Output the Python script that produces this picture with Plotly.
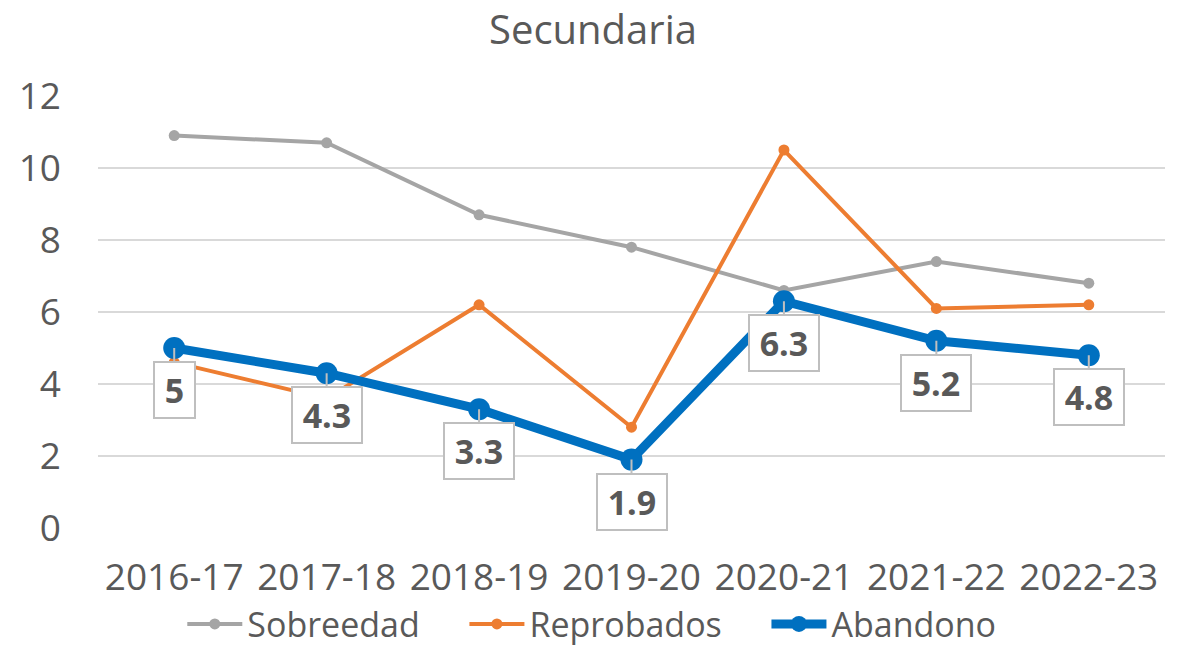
import plotly.graph_objects as go

categories = ["2016-17", "2017-18", "2018-19", "2019-20", "2020-21", "2021-22", "2022-23"]
sobreedad = [10.9, 10.7, 8.7, 7.8, 6.6, 7.4, 6.8]
reprobados = [4.6, 3.6, 6.2, 2.8, 10.5, 6.1, 6.2]
abandono = [5.0, 4.3, 3.3, 1.9, 6.3, 5.2, 4.8]
abandono_labels = ["5", "4.3", "3.3", "1.9", "6.3", "5.2", "4.8"]
y_ticks = [0, 2, 4, 6, 8, 10, 12]

FONT = "Open Sans"
TXT = "#595959"
PAD = "\u2002\u2002\u2009"  # spacing after legend entry text
TS = "\u2009"  # thin space padding inside data label boxes

fig = go.Figure()
fig.add_trace(go.Scatter(x=categories, y=sobreedad, name="Sobreedad" + PAD, mode="lines+markers",
                         line=dict(color="#a5a5a5", width=4), marker=dict(size=11, color="#a5a5a5")))
fig.add_trace(go.Scatter(x=categories, y=reprobados, name="Reprobados" + PAD, mode="lines+markers",
                         line=dict(color="#ed7d31", width=4), marker=dict(size=11, color="#ed7d31")))
fig.add_trace(go.Scatter(x=categories, y=abandono, name="Abandono" + PAD, mode="lines+markers",
                         line=dict(color="#0070c0", width=9), marker=dict(size=22, color="#0070c0")))

for c, v, t in zip(categories, abandono, abandono_labels):
    fig.add_annotation(x=c, y=v, text="<b>" + TS + t + TS + "</b>", showarrow=True, ax=0, ay=42,
                       arrowhead=0, arrowwidth=2, arrowcolor="#bfbfbf",
                       bgcolor="white", bordercolor="#bfbfbf", borderwidth=2, borderpad=4,
                       font=dict(family=FONT, size=34, color=TXT))

fig.update_layout(
    width=1170, height=639,
    margin=dict(l=90, r=13, t=88, b=119, autoexpand=False),
    paper_bgcolor="white", plot_bgcolor="white",
    title=dict(text="Secundaria", x=0.5, xanchor="center", y=0.965, yanchor="middle",
               font=dict(family=FONT, size=40, color=TXT)),
    font=dict(family=FONT, color=TXT),
    showlegend=True,
    legend=dict(orientation="h", x=0.079, xanchor="left", y=-0.223, yanchor="middle",
                font=dict(family=FONT, size=34, color=TXT), itemwidth=55, tracegroupgap=0),
    xaxis=dict(type="category", range=[-0.5, 6.5], showgrid=False, zeroline=False, showline=False,
               automargin=False,
               tickfont=dict(family=FONT, size=37, color=TXT), ticks="", ticklabelstandoff=24),
    yaxis=dict(range=[0, 12], tickvals=y_ticks, showgrid=True, gridcolor="#d9d9d9", gridwidth=1.5,
               zeroline=False, showline=False, ticks="", automargin=False,
               tickfont=dict(family=FONT, size=37, color=TXT), ticklabelstandoff=36),
)

fig.write_html("out.html")
